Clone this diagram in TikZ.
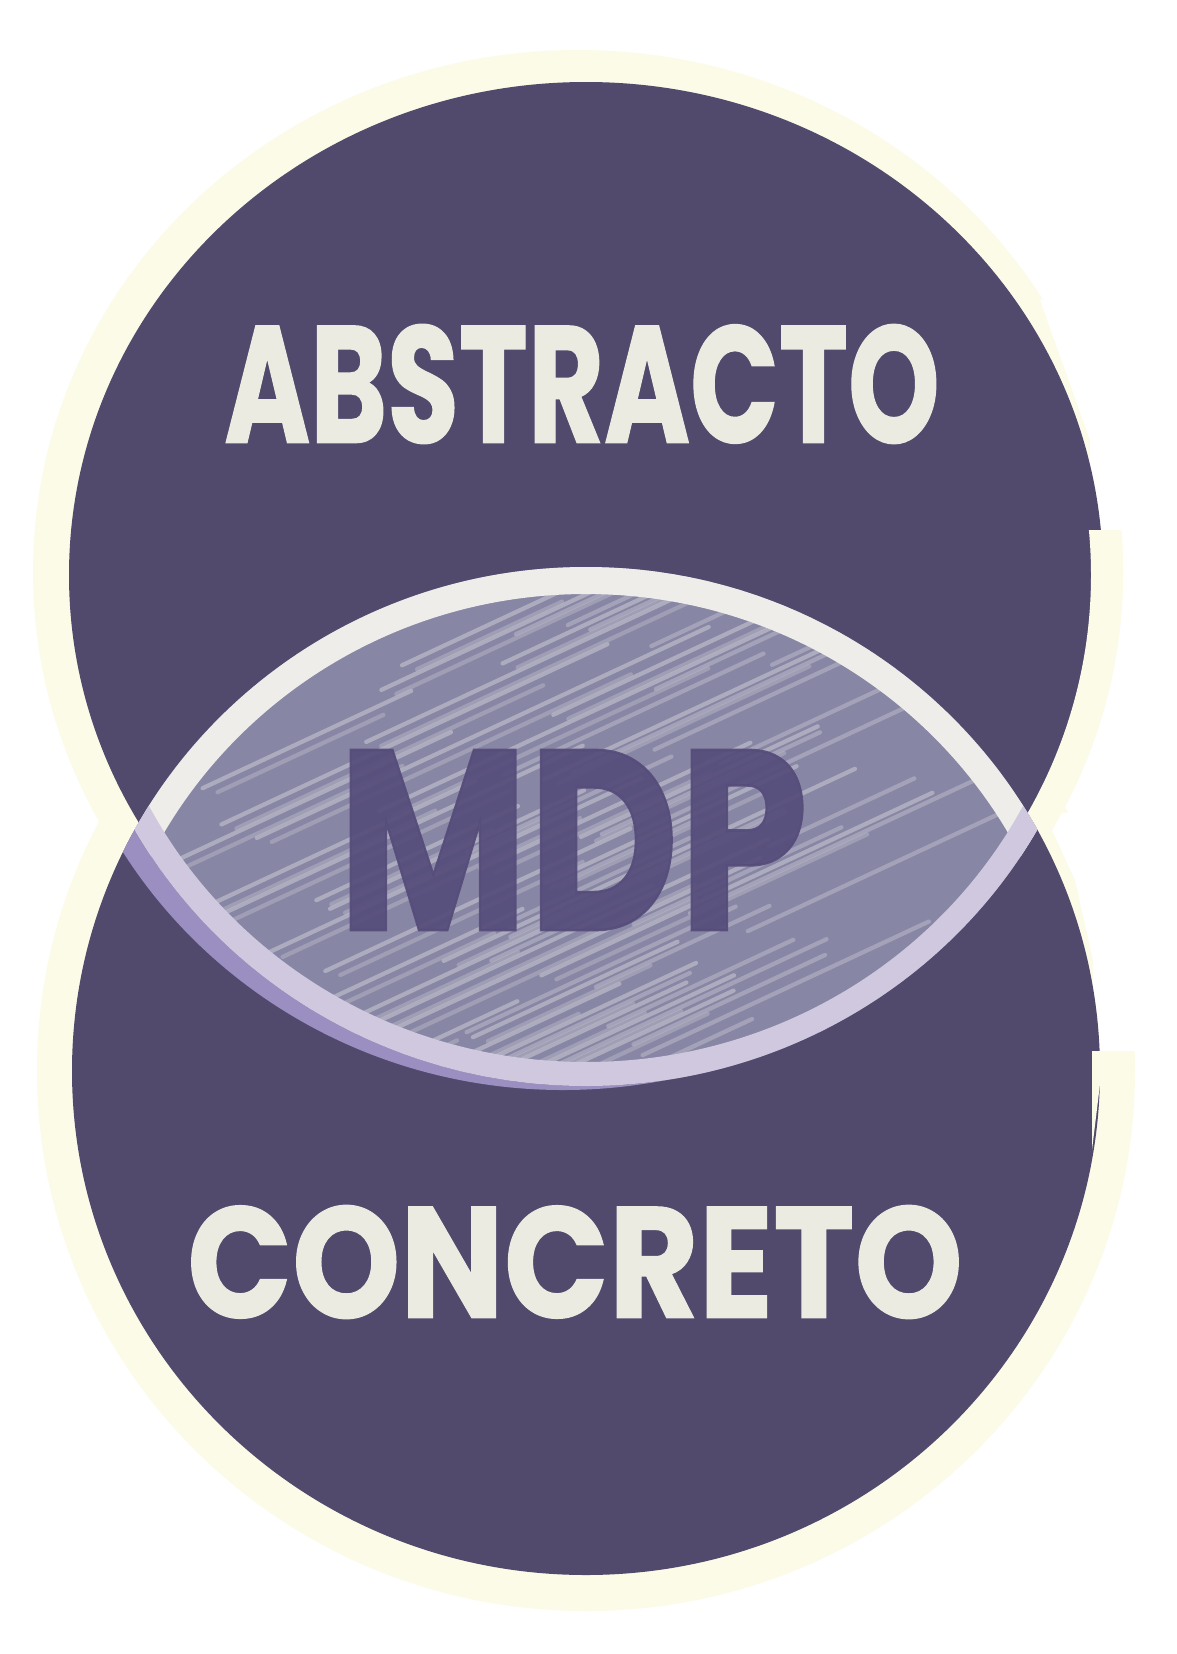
\documentclass[tikz,border=0pt]{standalone}
\usepackage{fontspec}
\usepackage{graphicx}
\newfontfamily\hand{Poppins}[BoldFeatures={FakeBold=1}]
\definecolor{darkcol}{HTML}{514A6C}
\definecolor{halocol}{HTML}{FCFBE8}
\definecolor{textcol}{HTML}{ECEBE1}
\definecolor{mdpcol}{HTML}{564D7B}
\definecolor{lenscol}{HTML}{8886A5}
\definecolor{hatchcol}{HTML}{B7B6C6}
\definecolor{topbandcol}{HTML}{EEEDEA}
\definecolor{botbandcol}{HTML}{CFC8DF}
\definecolor{purpcol}{HTML}{9B8FC2}
\tikzset{
  word/.style={inner sep=0pt, text=textcol},
  hatchline/.style={draw=hatchcol, line width=1.2pt, line cap=round, opacity=0.8},
}
\begin{document}
\begin{tikzpicture}[x=0.01cm,y=-0.01cm]
\useasboundingbox (0,0) rectangle (1177,1654);
\fill[white] (0,0) rectangle (1177,1654);
% halos
\fill[halocol] (586,1071) ellipse [x radius=549, y radius=540];
\fill[white] (1177,800) -- (1177,1051) -- (1093,1051) -- (1093,960) -- (1075,880) -- (1045,815) -- cycle;
\fill[halocol] (578,572) ellipse [x radius=545, y radius=522];
\fill[white] (1040,300) -- (1090,440) -- (1090,530) -- (1177,530) -- (1177,280) -- cycle;
% top circle
\fill[darkcol] (586,575) ellipse [x radius=517, y radius=493];
\begin{scope}
  \clip (900,530) rectangle (1177,900);
  \fill[halocol, even odd rule] (578,572) ellipse [x radius=545, y radius=522]
        (580,575) ellipse [x radius=511, y radius=493];
\end{scope}
% bottom circle
\fill[darkcol] (586,1071) ellipse [x radius=514, y radius=504];
\fill[halocol] (1092,1051) -- (1104,1051) -- (1092,1150) -- cycle;
% purple crescent under lens
\begin{scope}
  \clip (586,1071) ellipse [x radius=514, y radius=504];
  \clip (563,589) ellipse [x radius=517, y radius=501];
  \fill[purpcol, even odd rule] (0,0) rectangle (1177,1654)
        (586,585) ellipse [x radius=517, y radius=501];
\end{scope}
% lens
\begin{scope}
  \clip (586,1071) ellipse [x radius=514, y radius=504];
  \clip (586,585) ellipse [x radius=517, y radius=501];
  \fill[lenscol] (0,0) rectangle (1177,1654);
  \pgfmathsetseed{31}
  \foreach \k in {0,...,34} {
    \pgfmathsetmacro\c{580+\k*15}
    \pgfmathsetmacro\xa{140+450*rnd}
    \pgfmathsetmacro\la{200+320*rnd}
    \pgfmathsetmacro\ya{\c-0.466*(\xa-585)}
    \draw[hatchline] (\xa,\ya) -- ++(0.906*\la,-0.423*\la);
    \draw[hatchline, opacity=0.5] (\xa+15,\ya+4) -- ++(0.72*\la,-0.336*\la);
    \pgfmathsetmacro\xb{450+450*rnd}
    \pgfmathsetmacro\lb{150+250*rnd}
    \pgfmathsetmacro\yb{\c+7-0.466*(\xb-585)}
    \draw[hatchline, opacity=0.6] (\xb,\yb) -- ++(0.906*\lb,-0.423*\lb);
  }
  \node[inner sep=0pt, text=mdpcol, opacity=0.93] (mdp) at (573,840)
     {\resizebox{4.7cm}{1.8cm}{\hand\bfseries MDP}};
  \draw[topbandcol, line width=0.54cm] (586,1071) ellipse [x radius=514, y radius=504];
  \draw[botbandcol, line width=0.48cm] (586,585) ellipse [x radius=517, y radius=501];
\end{scope}
% words
\node[word] (abs) at (582,384) {\resizebox{7.15cm}{1.18cm}{\hand\bfseries ABSTRACTO}};
\node[word] (con) at (575,1262) {\resizebox{7.75cm}{1.12cm}{\hand\bfseries CONCRETO}};
\end{tikzpicture}
\end{document}
